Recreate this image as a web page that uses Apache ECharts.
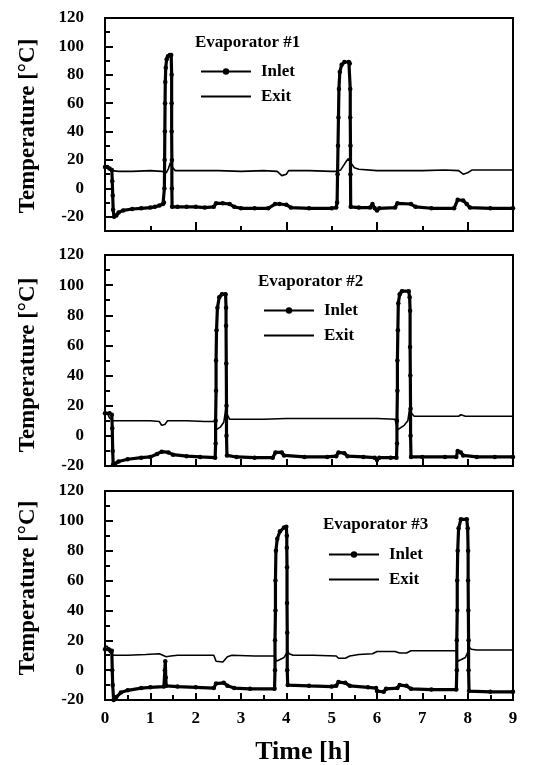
<!DOCTYPE html>
<html>
<head>
<meta charset="utf-8">
<script src="https://cdn.jsdelivr.net/npm/echarts@6/dist/echarts.min.js"></script>
<style>
  html, body { margin: 0; padding: 0; background: #fff; }
  #chart { width: 535px; height: 765px; }
</style>
</head>
<body>
<div id="chart"></div>
<script>
// ---- data: time [h], temperature [°C] ----
const panelTitles = ['Evaporator #1', 'Evaporator #2', 'Evaporator #3'];
const seriesNames = ['Inlet', 'Exit'];
const xTickLabels = [0, 1, 2, 3, 4, 5, 6, 7, 8, 9];
const yTickLabels = [-20, 0, 20, 40, 60, 80, 100, 120];
const yMinorTicks = [-10, 10, 30, 50, 70, 90, 110];

const evap1Inlet = [
  [0, 15], [0.05, 15], [0.1, 14], [0.15, 13], [0.16, 5], [0.17, -5], [0.18, -15], [0.2, -20],
  [0.25, -19], [0.3, -17], [0.4, -15.5], [0.6, -14.5], [0.8, -14], [1.0, -13.5], [1.1, -13],
  [1.2, -12], [1.28, -11], [1.3, -10], [1.31, 0], [1.315, 20], [1.32, 40], [1.325, 60],
  [1.33, 75], [1.34, 85], [1.36, 91], [1.39, 93], [1.43, 94], [1.46, 94], [1.47, 80],
  [1.47, 60], [1.47, 40], [1.475, 20], [1.475, 0], [1.48, -13], [1.6, -13], [1.8, -13],
  [2.0, -13], [2.2, -13.5], [2.4, -13], [2.45, -10.5], [2.6, -10.5], [2.75, -11], [2.85, -13],
  [3.0, -14], [3.3, -14], [3.6, -14], [3.75, -11], [3.85, -11], [4.0, -11.5], [4.1, -13.5],
  [4.5, -14], [5.0, -14], [5.1, -13.5], [5.12, -10], [5.13, 10], [5.14, 30], [5.15, 50],
  [5.16, 70], [5.18, 82], [5.22, 87], [5.28, 89], [5.38, 89], [5.4, 88], [5.41, 70],
  [5.41, 50], [5.415, 30], [5.415, 10], [5.42, -13], [5.6, -13.5], [5.85, -13.5], [5.9, -11],
  [5.95, -14], [6.0, -15.5], [6.05, -14], [6.4, -13.5], [6.45, -10.5], [6.75, -11], [6.85, -13],
  [7.2, -14], [7.7, -14], [7.78, -8], [7.9, -8.5], [7.98, -11], [8.05, -13.5], [8.5, -14], [9, -14]
];
const evap1Exit = [
  [0, 16], [0.05, 15], [0.1, 13], [0.15, 12.5], [0.3, 12], [0.6, 12], [1.0, 12.5], [1.25, 12],
  [1.35, 11], [1.4, 14], [1.44, 18], [1.48, 15], [1.55, 12.5], [2.0, 12.5], [2.5, 12.5],
  [3.0, 12], [3.5, 12.5], [3.8, 12], [3.9, 9], [4.0, 10], [4.05, 12.5], [4.5, 12.5], [5.0, 12],
  [5.12, 12], [5.2, 13], [5.3, 18], [5.37, 21], [5.42, 18], [5.5, 14.5], [5.6, 13.5], [6.0, 12.5],
  [6.5, 12.5], [7.0, 12.5], [7.5, 13], [7.8, 12.5], [7.9, 10], [8.0, 11], [8.1, 13], [8.5, 13], [9, 13]
];

const evap2Inlet = [
  [0, 15], [0.1, 15], [0.15, 14], [0.16, 5], [0.17, -10], [0.18, -19], [0.22, -19], [0.3, -17],
  [0.5, -15.5], [0.8, -14.5], [1.0, -14], [1.15, -12], [1.25, -10.5], [1.4, -11], [1.5, -12.5],
  [1.8, -13.5], [2.1, -14], [2.43, -14.5], [2.44, -5], [2.44, 10], [2.45, 30], [2.45, 50],
  [2.46, 70], [2.48, 85], [2.52, 92], [2.58, 94], [2.66, 94], [2.67, 85], [2.67, 73],
  [2.675, 48], [2.68, 20], [2.68, 0], [2.69, -13], [2.9, -14], [3.3, -14.5], [3.7, -14.5],
  [3.76, -11], [3.9, -11], [3.95, -13], [4.4, -14], [4.9, -14], [5.1, -13.5], [5.15, -11],
  [5.28, -11.5], [5.35, -13.5], [5.7, -14], [5.95, -14.5], [6.0, -16], [6.05, -14.5], [6.3, -14.5],
  [6.43, -14.5], [6.44, -5], [6.44, 10], [6.45, 30], [6.45, 50], [6.46, 70], [6.47, 88],
  [6.5, 94], [6.55, 96], [6.7, 96], [6.72, 92], [6.73, 83], [6.73, 59], [6.735, 40],
  [6.74, 18], [6.74, 0], [6.75, -14], [7.0, -14], [7.5, -14], [7.75, -14], [7.78, -10],
  [7.85, -11], [7.9, -13], [8.2, -14], [8.6, -14], [9, -14]
];
const evap2Exit = [
  [0, 15], [0.05, 15], [0.1, 12], [0.18, 10], [0.5, 10], [1.0, 10], [1.2, 9.5], [1.25, 7],
  [1.32, 7.5], [1.38, 10], [1.8, 10], [2.2, 9.5], [2.42, 9.5], [2.45, 4], [2.5, 5], [2.55, 6],
  [2.62, 9], [2.65, 15], [2.67, 20], [2.7, 14], [2.75, 11], [3.0, 11], [3.5, 11], [4.0, 11.5],
  [4.5, 11.5], [5.0, 11.5], [5.5, 11.5], [6.0, 11.5], [6.4, 11], [6.45, 4], [6.5, 5], [6.6, 7],
  [6.68, 10], [6.71, 16], [6.73, 20], [6.76, 15], [6.82, 13], [7.2, 13], [7.8, 13], [7.85, 14],
  [7.95, 13], [8.5, 13], [9, 13]
];

const evap3Inlet = [
  [0, 14], [0.08, 14], [0.15, 13], [0.16, 0], [0.17, -10], [0.19, -20], [0.25, -18], [0.35, -15],
  [0.5, -13.5], [0.8, -12], [1.0, -11.5], [1.3, -11], [1.32, 0], [1.33, 6], [1.34, -5],
  [1.35, -10.5], [1.6, -11], [2.0, -11.5], [2.4, -12], [2.45, -9], [2.62, -8.5], [2.7, -10.5],
  [2.85, -12], [3.2, -12.5], [3.74, -12.5], [3.75, 0], [3.75, 20], [3.76, 40], [3.76, 60],
  [3.77, 80], [3.8, 88], [3.86, 93], [3.95, 95.5], [4.0, 96], [4.01, 90], [4.01, 82],
  [4.015, 69], [4.015, 45], [4.02, 25], [4.02, 0], [4.03, -10], [4.5, -10.5], [5.0, -11],
  [5.1, -10.5], [5.15, -8], [5.3, -8.5], [5.4, -10.5], [5.8, -11.5], [5.98, -12], [6.0, -14],
  [6.15, -14.5], [6.2, -12.5], [6.45, -12], [6.5, -10], [6.65, -10.5], [6.75, -12.5], [7.2, -13],
  [7.75, -13], [7.76, 0], [7.76, 20], [7.77, 40], [7.77, 60], [7.78, 80], [7.8, 95], [7.85, 101],
  [7.98, 101], [8.0, 95], [8.01, 80], [8.01, 60], [8.015, 40], [8.02, 20], [8.02, 0], [8.03, -14],
  [8.5, -14.5], [9, -14.5]
];
const evap3Exit = [
  [0, 16], [0.05, 16], [0.1, 12], [0.18, 10], [0.5, 10], [0.9, 10.5], [1.2, 11], [1.35, 9],
  [1.45, 9.5], [1.6, 10], [2.0, 10], [2.4, 10], [2.45, 6], [2.6, 5.5], [2.7, 9], [2.8, 10],
  [3.3, 9.5], [3.74, 9.5], [3.78, 6], [3.85, 7], [3.95, 8.5], [4.0, 11], [4.02, 13.5], [4.06, 11],
  [4.15, 10], [4.6, 10], [5.1, 9.5], [5.15, 8], [5.3, 8], [5.4, 9.5], [5.6, 10.5], [5.9, 11],
  [6.0, 12.5], [6.4, 12.5], [6.5, 11.5], [6.65, 11.5], [6.75, 13], [7.2, 13], [7.75, 13],
  [7.78, 6], [7.85, 7], [7.95, 8.5], [8.0, 12], [8.03, 15.5], [8.08, 14], [8.2, 13.5],
  [8.6, 13.5], [9, 13.5]
];

const panelData = [
  [evap1Inlet, evap1Exit],
  [evap2Inlet, evap2Exit],
  [evap3Inlet, evap3Exit]
];

// ---- layout / style ----
const FONT = '"Liberation Serif", "Times New Roman", serif';
const panels = [
  { top: 18,  height: 213, yMin: -30, legendLeft: 195, titleY: 43,  legendTop: 58,  yTitleY: 126,
    xMajor: [2, 4, 6, 8], xMajorLen: 9, xMinor: [1, 3, 5, 7], xMinorLen: 5, showX: false },
  { top: 255, height: 211, yMin: -20, legendLeft: 258, titleY: 282, legendTop: 297, yTitleY: 365,
    xMajor: [1, 2, 3, 4, 5, 6, 7, 8], xMajorLen: 7, xMinor: [], xMinorLen: 5, showX: false },
  { top: 491, height: 209, yMin: -20, legendLeft: 323, titleY: 525, legendTop: 541, yTitleY: 588,
    xMajor: [1, 2, 3, 4, 5, 6, 7, 8], xMajorLen: 7,
    xMinor: [0.5, 1.5, 2.5, 3.5, 4.5, 5.5, 6.5, 7.5, 8.5], xMinorLen: 5, showX: true }
];

const grid = [], xAxis = [], yAxis = [], series = [], legend = [], graphic = [];
const tickLine = { color: '#000', width: 2 };
const labelFont = { fontFamily: FONT, fontWeight: 'bold', fontSize: 17, color: '#000' };
const hiddenLine = { show: false, onZero: false };

panels.forEach((p, i) => {
  grid.push({
    left: 105, right: 22, top: p.top, height: p.height,
    show: true, borderColor: '#000', borderWidth: 2, backgroundColor: 'transparent'
  });
  // primary x axis (ticks + labels)
  xAxis.push({
    type: 'value', gridIndex: i, min: 0, max: 9, position: 'bottom',
    axisLine: hiddenLine, splitLine: { show: false },
    axisTick: { show: true, inside: true, length: p.xMajorLen, lineStyle: tickLine, customValues: p.xMajor },
    axisLabel: { show: p.showX, margin: 10, customValues: xTickLabels, ...labelFont }
  });
  // secondary x axis (short ticks)
  xAxis.push({
    type: 'value', gridIndex: i, min: 0, max: 9, position: 'bottom',
    axisLine: hiddenLine, splitLine: { show: false }, axisLabel: { show: false },
    axisTick: { show: p.xMinor.length > 0, inside: true, length: p.xMinorLen, lineStyle: tickLine,
      customValues: p.xMinor.length ? p.xMinor : [0] }
  });
  // primary y axis
  yAxis.push({
    type: 'value', gridIndex: i, min: p.yMin, max: 120, position: 'left',
    axisLine: hiddenLine, splitLine: { show: false },
    axisTick: { show: true, inside: true, length: 8, lineStyle: tickLine, customValues: yTickLabels },
    axisLabel: { show: true, margin: 21, customValues: yTickLabels, ...labelFont }
  });
  // secondary y axis (10-degree ticks)
  yAxis.push({
    type: 'value', gridIndex: i, min: p.yMin, max: 120, position: 'left',
    axisLine: hiddenLine, splitLine: { show: false }, axisLabel: { show: false },
    axisTick: { show: true, inside: true, length: 5, lineStyle: tickLine, customValues: yMinorTicks }
  });

  const [inlet, exit] = panelData[i];
  series.push({
    name: seriesNames[0], type: 'line', xAxisIndex: 2 * i, yAxisIndex: 2 * i,
    data: inlet, symbol: 'circle', symbolSize: 4.5, showSymbol: true,
    lineStyle: { color: '#000', width: 3.2 }, itemStyle: { color: '#000' },
    emphasis: { disabled: true }, z: 3
  });
  series.push({
    name: seriesNames[1], type: 'line', xAxisIndex: 2 * i, yAxisIndex: 2 * i,
    data: exit, symbol: 'none',
    lineStyle: { color: '#000', width: 1.6 }, itemStyle: { color: '#000' },
    emphasis: { disabled: true }, z: 2
  });

  legend.push({
    data: [{ name: seriesNames[0] }, { name: seriesNames[1], itemStyle: { opacity: 0 } }],
    left: p.legendLeft, top: p.legendTop, orient: 'vertical',
    itemWidth: 50, itemHeight: 8, itemGap: 8, selectedMode: false,
    textStyle: { fontFamily: FONT, fontWeight: 'bold', fontSize: 17, color: '#000',
      lineHeight: 16, padding: [0, 0, 0, 5] }
  });

  graphic.push({
    type: 'text', x: p.legendLeft, y: p.titleY,
    style: { text: panelTitles[i], font: 'bold 17px ' + FONT, fill: '#000',
      align: 'left', verticalAlign: 'middle', textAlign: 'left', textVerticalAlign: 'middle' }
  });
  graphic.push({
    type: 'text', x: 28, y: p.yTitleY, rotation: Math.PI / 2,
    style: { text: 'Temperature [°C]', font: 'bold 23px ' + FONT, fill: '#000',
      align: 'center', verticalAlign: 'middle', textAlign: 'center', textVerticalAlign: 'middle' }
  });
});

graphic.push({
  type: 'text', x: 303, y: 752,
  style: { text: 'Time [h]', font: 'bold 26px ' + FONT, fill: '#000',
    align: 'center', verticalAlign: 'middle', textAlign: 'center', textVerticalAlign: 'middle' }
});

const chart = echarts.init(document.getElementById('chart'), null, { renderer: 'canvas' });
chart.setOption({
  animation: false,
  backgroundColor: '#fff',
  grid, xAxis, yAxis, series, legend, graphic
});
</script>
</body>
</html>
